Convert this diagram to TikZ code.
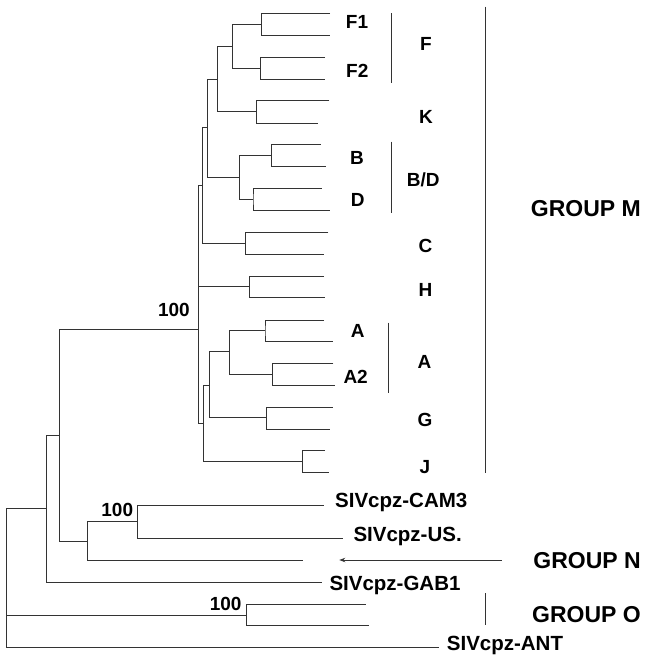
\documentclass[tikz,border=0pt]{standalone}
\usepackage{fontspec}
\setmainfont{Liberation Sans}
\usepackage{tikz}
\usetikzlibrary{arrows.meta}

\tikzset{
  branch/.style={draw=black!80,line width=1pt},
  bracket/.style={draw=black!80,line width=0.9pt},
  sublab/.style={font=\bfseries\fontsize{19}{19}\selectfont,anchor=base west,inner sep=0pt},
  strainlab/.style={font=\bfseries\fontsize{20.5}{20.5}\selectfont,anchor=base west,inner sep=0pt},
  boot/.style={font=\bfseries\fontsize{19}{19}\selectfont,anchor=base east,inner sep=0pt},
  grouplab/.style={font=\bfseries\fontsize{23}{23}\selectfont,anchor=base east,inner sep=0pt}
}

\begin{document}
\begin{tikzpicture}[x=1pt,y=-1pt]
    \useasboundingbox (0,0) rectangle (645,662);

    \coordinate (root) at (6.7,508.3);
    \coordinate (mng)  at (46.7,508.3);
    \coordinate (mn)   at (59.3,435);
    \coordinate (m)    at (198.5,329.3);
    \coordinate (n)    at (87.3,541);
    \coordinate (cpz)  at (137.3,521.7);
    \coordinate (o)    at (246.7,615);
    \coordinate (u)    at (202.3,185.5);
    \coordinate (v)    at (207.7,127);
    \coordinate (w)    at (217.3,79);
    \coordinate (f)    at (232.3,46.3);
    \coordinate (f1)   at (261.7,24);
    \coordinate (f2)   at (260.7,68);
    \coordinate (k)    at (256.3,111.7);
    \coordinate (bd)   at (239,177.3);
    \coordinate (b)    at (271.7,155);
    \coordinate (d)    at (253,199.3);
    \coordinate (c)    at (245.7,243.3);
    \coordinate (h)    at (249.3,286.7);
    \coordinate (agj)  at (203.3,423.3);
    \coordinate (ag)   at (209,385);
    \coordinate (aa)   at (229.3,351.7);
    \coordinate (a)    at (265,330.7);
    \coordinate (a2)   at (272.7,374.3);
    \coordinate (g)    at (266.7,417.7);
    \coordinate (j)    at (302.3,461.7);

    % tips
    \foreach \p/\xa/\ya/\xb/\yb in {f1/330/13.3/330/35, f2/325/57.3/325/79,
        k/329.3/100.7/318.3/123, b/320.7/144.7/326/166.3, d/321.7/188.7/330/210.3,
        c/328.3/232.3/324/254.3, h/324/276/325/297.7, a/324/320/332.7/341.7,
        a2/333.3/363.3/335/385.3, g/332.7/407.3/330/429, j/325/450.7/329.3/472.7,
        o/365.7/604/369/625}{
      \coordinate (\p-1) at (\xa,\ya);
      \coordinate (\p-2) at (\xb,\yb);
      \draw[branch] (\p-1) -| (\p) |- (\p-2);
    }
    \coordinate (cam3)  at (324.3,505.7);
    \coordinate (us)    at (343.3,538.3);
    \coordinate (nleaf) at (303.3,560);
    \coordinate (gab1)  at (321.7,582.3);
    \coordinate (ant)   at (439.3,647.7);

    \foreach \p/\q in {root/mng, root/o, root/ant, mng/mn, mng/gab1, mn/m, mn/n,
        n/cpz, n/nleaf, cpz/cam3, cpz/us, m/u, m/h, m/agj, u/v, u/c, v/w, v/bd,
        w/f, w/k, f/f1, f/f2, bd/b, bd/d, agj/ag, agj/j, ag/aa, ag/g, aa/a, aa/a2}
      \draw[branch] (\p) |- (\q);

    \node[sublab] (lf1) at (345.7,28.5) {F1};
    \node[sublab] (lf2) at (346,77.5) {F2};
    \node[sublab] (lk) at (419,123.5) {K};
    \node[sublab] (lb) at (350,164.6) {B};
    \node[sublab] (ld) at (350.7,206.8) {D};
    \node[sublab] (lc) at (418.3,252.8) {C};
    \node[sublab] (lh) at (418.3,296.5) {H};
    \node[sublab] (la) at (350.7,337) {A};
    \node[sublab] (la2) at (343.3,383.8) {A2};
    \node[sublab] (lg) at (417.3,426.5) {G};
    \node[sublab] (lj) at (419.3,473.5) {J};
    \node[sublab] (bf) at (420,50) {F};
    \node[sublab] (bbd) at (406.7,186.5) {B/D};
    \node[sublab] (ba) at (417.3,368.8) {A};

    \node[strainlab] (lcam3) at (335,507.3) {SIVcpz-CAM3};
    \node[strainlab] (lus) at (353.3,541.5) {SIVcpz-US.};
    \node[strainlab] (lgab1) at (329.3,590) {SIVcpz-GAB1};
    \node[strainlab] (lant) at (446.7,650) {SIVcpz-ANT};

    \node[boot] (bm) at (190,316.7) {100};
    \node[boot] (bn) at (133.3,516.7) {100};
    \node[boot] (bo) at (241.7,610.7) {100};

    \draw[bracket] (391.7,13.3) -- (391.7,83.3);
    \draw[bracket] (391.7,141.7) -- (391.7,212.7);
    \draw[bracket] (388.3,322.7) -- (388.3,393.3);
    \draw[bracket] (485.7,6.7) -- (485.7,472.7);
    \draw[bracket] (485.7,593.3) -- (485.7,625);

    \node[grouplab] (gm) at (641,216) {GROUP M};
    \node[grouplab] (gn) at (641,568) {GROUP N};
    \node[grouplab] (go) at (641,622) {GROUP O};

    \coordinate (ntail) at (501.7,560);
    \coordinate (ntip) at (339.3,560);
    \draw[bracket,-{Stealth[length=6pt,width=4.5pt]}] (ntail) -- (ntip);
\end{tikzpicture}
\end{document}
